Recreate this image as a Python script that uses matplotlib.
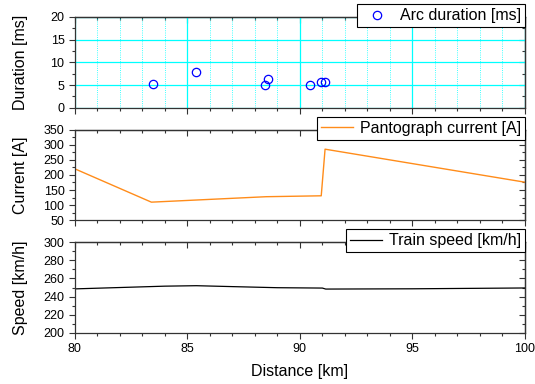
import matplotlib
matplotlib.use('Agg')
import matplotlib.pyplot as plt
from matplotlib.ticker import MultipleLocator

plt.rcParams['font.family'] = ['Liberation Sans', 'DejaVu Sans']

# Arc events
arc_km = [83.47, 85.38, 88.44, 88.6, 90.44, 90.95, 91.12]
arc_ms = [5.2, 7.85, 5.05, 6.4, 5.0, 5.6, 5.65]

# Pantograph current
cur_km = [80.0, 83.4, 88.5, 90.95, 91.12, 100.0]
cur_a = [220, 110, 128, 131, 285, 176]

# Train speed
spd_km = [80.0, 82.0, 84.0, 85.4, 87.0, 89.0, 91.0, 91.15, 95.0, 100.0]
spd_kmh = [248.5, 250.0, 251.5, 252.0, 251.0, 249.8, 249.4, 248.3, 248.6, 249.5]

# y-axis settings per panel: limits, major step, minor step
ylims = [(0, 20), (50, 350), (200, 300)]
ysteps = [(5, 2.5), (50, 25), (20, 10)]
ylabels = ['Duration [ms]', 'Current [A]', 'Speed [km/h]']

fig, axes = plt.subplots(3, 1, figsize=(5.35, 3.84), dpi=100, sharex=True)
fig.subplots_adjust(left=0.14, right=0.981, top=0.956, bottom=0.133, hspace=0.24)
ax1, ax2, ax3 = axes

# Top panel: arc duration
ax1.plot(arc_km, arc_ms, 'o', mfc='none', mec='blue', ms=6, mew=0.9,
         label='Arc duration [ms]', zorder=3)
ax1.grid(True, which='major', color='cyan', lw=0.9)
ax1.grid(True, which='minor', axis='x', color='cyan', lw=0.6, ls=':')
ax1.set_axisbelow(True)

# Middle panel: current
ax2.plot(cur_km, cur_a, color='#ff8c1a', lw=1.0, label='Pantograph current [A]')

# Bottom panel: speed
ax3.plot(spd_km, spd_kmh, color='black', lw=0.9, label='Train speed [km/h]')
ax3.set_xlabel('Distance [km]', fontsize=11.5)
ax3.xaxis.labelpad = 6

ax3.set_xlim(80, 100)
ax3.xaxis.set_major_locator(MultipleLocator(5))
ax3.xaxis.set_minor_locator(MultipleLocator(1))

ident = (lambda v: v, lambda v: v)
for ax, lim, (mj, mn), lab in zip(axes, ylims, ysteps, ylabels):
    ax.set_ylim(*lim)
    ax.yaxis.set_major_locator(MultipleLocator(mj))
    ax.yaxis.set_minor_locator(MultipleLocator(mn))
    ax.set_ylabel(lab, fontsize=11.5)
    ax.yaxis.set_label_coords(-0.105, 0.5)
    ax.tick_params(which='both', direction='out', labelsize=9, top=False, right=False,
                   color='#333333')
    ax.tick_params(which='major', length=4, width=0.8)
    ax.tick_params(which='minor', length=2.5, width=0.8)
    for spine in ax.spines.values():
        spine.set_linewidth(0.9)
        spine.set_color('#333333')

    # inward ticks on top and right
    top = ax.secondary_xaxis('top', functions=ident)
    top.xaxis.set_major_locator(MultipleLocator(5))
    top.xaxis.set_minor_locator(MultipleLocator(1))
    right = ax.secondary_yaxis('right', functions=ident)
    right.yaxis.set_major_locator(MultipleLocator(mj))
    right.yaxis.set_minor_locator(MultipleLocator(mn))
    for sec in (top, right):
        sec.tick_params(which='both', direction='in', labeltop=False, labelright=False,
                        color='#333333', width=0.8)
        sec.tick_params(which='major', length=4)
        sec.tick_params(which='minor', length=2.5)
        for spine in sec.spines.values():
            spine.set_linewidth(0.9)
            spine.set_color('#333333')

    leg = ax.legend(loc='upper right', bbox_to_anchor=(1.0, 1.14), borderaxespad=0,
                    fontsize=11.5, frameon=True, fancybox=False, framealpha=1,
                    edgecolor='black', handlelength=2.0, borderpad=0.25,
                    handletextpad=0.4)
    leg.get_frame().set_linewidth(0.8)
    leg.set_zorder(10)

ax1.tick_params(labelbottom=False)
ax2.tick_params(labelbottom=False)

fig.savefig('out.png', dpi=100)
